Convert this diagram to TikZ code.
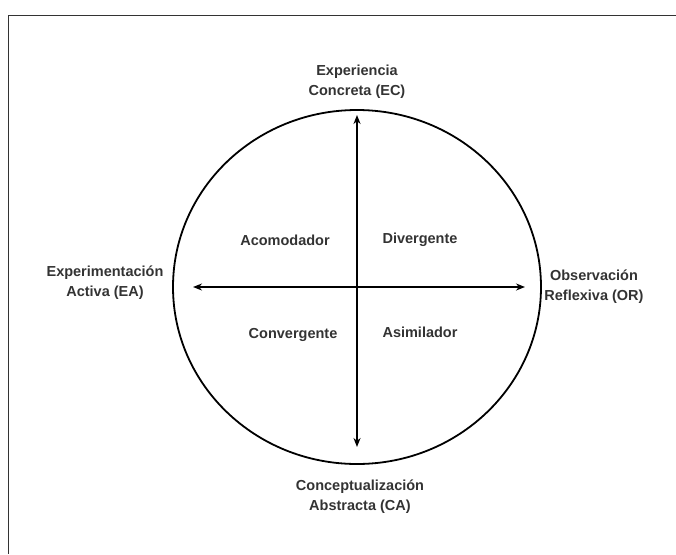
\documentclass[tikz,border=0pt]{standalone}
\usepackage{fontspec}
\setmainfont{Liberation Sans}
\usepackage{tikz}
\usetikzlibrary{arrows.meta}

\begin{document}
\begin{tikzpicture}[x=1pt,y=-1pt,
    lbl/.style={font=\bfseries\fontsize{14.5}{20}\selectfont, text=black!80, align=center, inner sep=0pt},
    axis/.style={{Stealth[length=9pt,width=7pt]}-{Stealth[length=9pt,width=7pt]}, line width=1.8pt}]
    \useasboundingbox (0,0) rectangle (676,554);
    \draw[line width=1pt, black!80] (676,15) -- (8,15) -- (8,554);
    \draw[line width=1.8pt] (357,287) ellipse (184 and 177);
    \coordinate (top) at (357,115);
    \coordinate (bot) at (357,447);
    \coordinate (lft) at (193,287);
    \coordinate (rgt) at (525,287);
    \draw[axis] (top) -- (bot);
    \draw[axis] (lft) -- (rgt);
    \node[lbl] (ec) at (357,82) {Experiencia\\Concreta (EC)};
    \node[lbl] (ea) at (105,283) {Experimentación\\Activa (EA)};
    \node[lbl] (or) at (594,287) {Observación\\Reflexiva (OR)};
    \node[lbl] (ca) at (360,497) {Conceptualización\\Abstracta (CA)};
    \node[lbl] (acom) at (285,240) {Acomodador};
    \node[lbl] (div) at (420,240) {Divergente};
    \node[lbl] (conv) at (293,335) {Convergente};
    \node[lbl] (asim) at (420,332) {Asimilador};
\end{tikzpicture}
\end{document}
